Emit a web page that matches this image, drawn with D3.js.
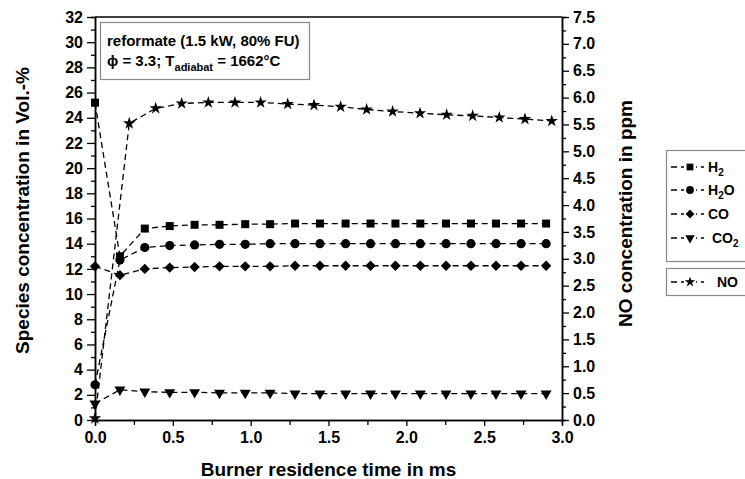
<!DOCTYPE html>
<html>
<head>
<meta charset="utf-8">
<script src="https://cdn.jsdelivr.net/npm/d3@7"></script>
<style>
  html, body { margin: 0; padding: 0; background: #fff; }
  svg { display: block; font-family: "Liberation Sans", Arial, sans-serif; }
  .tick text { font-weight: bold; font-size: 16px; fill: #000; }
  .title { font-weight: bold; font-size: 19px; fill: #000; }
  .note { font-weight: bold; font-size: 15px; fill: #000; }
  .leg { font-weight: bold; font-size: 14px; fill: #000; }
</style>
</head>
<body>
<svg id="chart" width="745" height="479"></svg>
<script>
// ---- data ----
const timeSpecies = [0, 0.16, 0.32, 0.48, 0.64, 0.80, 0.965, 1.125, 1.285, 1.445, 1.61, 1.77, 1.93, 2.09, 2.255, 2.415, 2.576, 2.737, 2.898];
const h2  = [25.2, 13.0, 15.2, 15.4, 15.5, 15.5, 15.55, 15.55, 15.6, 15.6, 15.6, 15.6, 15.6, 15.6, 15.6, 15.6, 15.6, 15.6, 15.6];
const h2o = [2.8, 12.7, 13.7, 13.85, 13.9, 13.95, 13.95, 14.0, 14.0, 14.0, 14.0, 14.0, 14.0, 14.0, 14.0, 14.0, 14.0, 14.0, 14.0];
const co  = [12.2, 11.5, 12.0, 12.1, 12.15, 12.2, 12.2, 12.2, 12.25, 12.25, 12.25, 12.25, 12.25, 12.25, 12.25, 12.25, 12.25, 12.25, 12.25];
const co2 = [1.3, 2.4, 2.25, 2.2, 2.2, 2.15, 2.15, 2.15, 2.1, 2.1, 2.1, 2.1, 2.1, 2.1, 2.1, 2.1, 2.1, 2.1, 2.1];
const timeNO = [0, 0.22, 0.39, 0.557, 0.728, 0.899, 1.064, 1.238, 1.407, 1.578, 1.745, 1.912, 2.088, 2.259, 2.426, 2.597, 2.762, 2.934];
const no  = [0.03, 5.52, 5.80, 5.89, 5.91, 5.91, 5.91, 5.88, 5.86, 5.83, 5.78, 5.74, 5.71, 5.68, 5.66, 5.63, 5.60, 5.565];
const xTicks = [0, 0.5, 1.0, 1.5, 2.0, 2.5, 3.0];
const yLeftTicks = [0, 2, 4, 6, 8, 10, 12, 14, 16, 18, 20, 22, 24, 26, 28, 30, 32];
const yRightTicks = [0, 0.5, 1.0, 1.5, 2.0, 2.5, 3.0, 3.5, 4.0, 4.5, 5.0, 5.5, 6.0, 6.5, 7.0, 7.5];
const legendLabels = [["H", "2", ""], ["H", "2", "O"], ["CO", "", ""], ["CO", "2", ""]];

// ---- layout ----
const L = 95, R = 562, T = 17, B = 420;
const svg = d3.select("#chart");
const x = d3.scaleLinear().domain([0, 3]).range([L, R]);
const yL = d3.scaleLinear().domain([0, 32]).range([B, T]);
const yR = d3.scaleLinear().domain([0, 7.5]).range([B, T]);

// frame top line
svg.append("line").attr("x1", L).attr("x2", R).attr("y1", T).attr("y2", T)
  .attr("stroke", "#000").attr("stroke-width", 1.5);

function styleAxis(g) {
  g.selectAll("path.domain").attr("stroke", "#000").attr("stroke-width", 1.5);
  g.selectAll(".tick line").attr("stroke", "#000").attr("stroke-width", 1.3);
}

// minor ticks
const xMinor = xTicks.slice(0, -1).map(v => v + 0.25);
const yLMinor = yLeftTicks.slice(0, -1).map(v => v + 1);
const yRMinor = yRightTicks.slice(0, -1).map(v => v + 0.25);

svg.append("g").attr("transform", `translate(0,${B})`)
  .call(d3.axisBottom(x).tickValues(xMinor).tickSize(5).tickFormat(""))
  .call(styleAxis);
svg.append("g").attr("transform", `translate(${L},0)`)
  .call(d3.axisLeft(yL).tickValues(yLMinor).tickSize(4).tickFormat(""))
  .call(styleAxis);
svg.append("g").attr("transform", `translate(${R},0)`)
  .call(d3.axisRight(yR).tickValues(yRMinor).tickSize(4).tickFormat(""))
  .call(styleAxis);

// major axes
svg.append("g").attr("transform", `translate(0,${B})`)
  .call(d3.axisBottom(x).tickValues(xTicks).tickSize(6).tickSizeOuter(0).tickPadding(6).tickFormat(d3.format(".1f")))
  .call(styleAxis);
svg.append("g").attr("transform", `translate(${L},0)`)
  .call(d3.axisLeft(yL).tickValues(yLeftTicks).tickSize(8).tickSizeOuter(0).tickPadding(4).tickFormat(d3.format("d")))
  .call(styleAxis);
svg.append("g").attr("transform", `translate(${R},0)`)
  .call(d3.axisRight(yR).tickValues(yRightTicks).tickSize(7).tickSizeOuter(0).tickPadding(4).tickFormat(d3.format(".1f")))
  .call(styleAxis);

// titles
svg.append("text").attr("class", "title").attr("x", (L + R) / 2).attr("y", 476)
  .attr("text-anchor", "middle").text("Burner residence time in ms");
svg.append("text").attr("class", "title").attr("transform", `translate(29,${(T + B) / 2 - 8}) rotate(-90)`)
  .attr("text-anchor", "middle").text("Species concentration in Vol.-%");
svg.append("text").attr("class", "title").attr("transform", `translate(632,${(T + B) / 2 - 5}) rotate(-90)`)
  .attr("text-anchor", "middle").text("NO concentration in ppm");

// symbols
const sym = {
  square: d3.symbol().type(d3.symbolSquare).size(64)(),
  circle: d3.symbol().type(d3.symbolCircle).size(66)(),
  diamond: d3.symbol().type(d3.symbolSquare).size(54)(),
  triangle: d3.symbol().type(d3.symbolTriangle).size(52)(),
  star: d3.symbol().type(d3.symbolStar).size(48)()
};
const rot = { square: 0, circle: 0, diamond: 45, triangle: 180, star: 0 };

const series = [
  { vals: h2, xs: timeSpecies, y: yL, s: "square" },
  { vals: h2o, xs: timeSpecies, y: yL, s: "circle" },
  { vals: co, xs: timeSpecies, y: yL, s: "diamond" },
  { vals: co2, xs: timeSpecies, y: yL, s: "triangle" },
  { vals: no, xs: timeNO, y: yR, s: "star" }
];

series.forEach(sr => {
  const pts = sr.vals.map((v, i) => [sr.xs[i], v]);
  const line = d3.line().x(d => x(d[0])).y(d => sr.y(d[1]));
  svg.append("path").attr("d", line(pts)).attr("fill", "none")
    .attr("stroke", "#000").attr("stroke-width", 1.3).attr("stroke-dasharray", "6,4");
  svg.append("g").selectAll("path").data(pts).join("path")
    .attr("d", sym[sr.s])
    .attr("transform", d => `translate(${x(d[0])},${sr.y(d[1])}) rotate(${rot[sr.s]})`)
    .attr("fill", "#000");
});

// annotation box
svg.append("rect").attr("x", 100.5).attr("y", 22.5).attr("width", 209).attr("height", 57)
  .attr("fill", "#fff").attr("stroke", "#888").attr("stroke-width", 1.2);
svg.append("text").attr("class", "note").attr("x", 107).attr("y", 46).text("reformate (1.5 kW, 80% FU)");
const t2 = svg.append("text").attr("class", "note").attr("x", 107).attr("y", 66);
t2.append("tspan").text("\u03d5 = 3.3; T");
t2.append("tspan").attr("dy", 5).style("font-size", "11px").text("adiabat");
t2.append("tspan").attr("dy", -5).text(" = 1662\u00b0C");

// legend (species)
svg.append("rect").attr("x", 666.5).attr("y", 150.5).attr("width", 100).attr("height", 111)
  .attr("fill", "#fff").attr("stroke", "#888").attr("stroke-width", 1.2);
svg.append("rect").attr("x", 666.5).attr("y", 268.5).attr("width", 100).attr("height", 27)
  .attr("fill", "#fff").attr("stroke", "#888").attr("stroke-width", 1.2);

const legRows = [
  { s: "square", y: 167, lab: legendLabels[0], tx: 708 },
  { s: "circle", y: 190, lab: legendLabels[1], tx: 708 },
  { s: "diamond", y: 214, lab: legendLabels[2], tx: 708 },
  { s: "triangle", y: 238, lab: legendLabels[3], tx: 712 },
  { s: "star", y: 282, lab: ["NO", "", ""], tx: 717 }
];
legRows.forEach(r => {
  svg.append("line").attr("x1", 670).attr("x2", 704).attr("y1", r.y).attr("y2", r.y)
    .attr("stroke", "#000").attr("stroke-width", 1.3).attr("stroke-dasharray", "6,4").attr("stroke-dashoffset", -1);
  svg.append("rect").attr("x", 684).attr("y", r.y - 5).attr("width", 12).attr("height", 10).attr("fill", "#fff");
  svg.append("path").attr("d", sym[r.s]).attr("transform", `translate(690,${r.y}) rotate(${rot[r.s]}) scale(0.85)`).attr("fill", "#000");
  const t = svg.append("text").attr("class", "leg").attr("x", r.tx).attr("y", r.y + 5);
  t.append("tspan").text(r.lab[0]);
  if (r.lab[1]) t.append("tspan").attr("dy", 4).style("font-size", "10px").text(r.lab[1]);
  if (r.lab[2]) t.append("tspan").attr("dy", -4).text(r.lab[2]);
});
</script>
</body>
</html>
